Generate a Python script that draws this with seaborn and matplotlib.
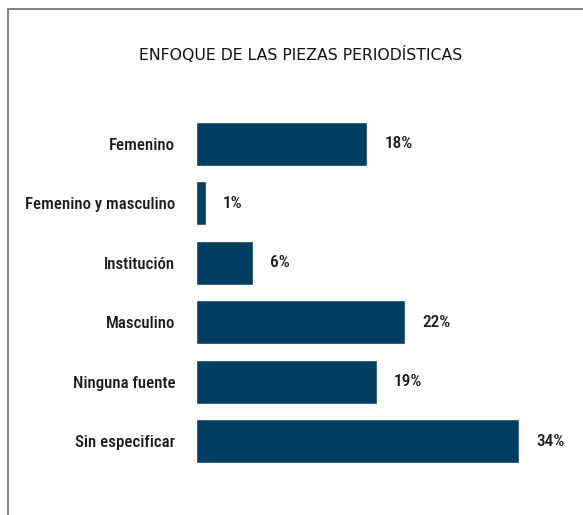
import matplotlib
matplotlib.use("Agg")
import matplotlib.pyplot as plt
import seaborn as sns
import pandas as pd
from matplotlib.patches import Rectangle

# datos del gráfico
categorias = ["Femenino", "Femenino y masculino", "Institución",
              "Masculino", "Ninguna fuente", "Sin especificar"]
porcentajes = [18, 1, 6, 22, 19, 34]
titulo = "ENFOQUE DE LAS PIEZAS PERIODÍSTICAS"

df = pd.DataFrame({"categoria": categorias, "porcentaje": porcentajes})

sns.set_style("white")
plt.rcParams["font.family"] = ["Roboto Condensed", "Liberation Sans", "DejaVu Sans"]

color_barra = "#023E62"

fig = plt.figure(figsize=(5.83, 5.15), dpi=100)
ax = fig.add_axes([196 / 583, 0.0858, 380 / 583, 0.6932])

sns.barplot(data=df, x="porcentaje", y="categoria", orient="h",
            color=color_barra, saturation=1, width=0.74, ax=ax)

ax.set_xlim(0, 40)
ax.set_ylim(5.5, -0.5)
ax.set_xlabel("")
ax.set_ylabel("")
ax.set_xticks([])
sns.despine(ax=ax, left=True, bottom=True)
ax.tick_params(axis="y", length=0, pad=15, labelsize=12.2)
for lbl in ax.get_yticklabels():
    lbl.set_fontweight("medium")
    lbl.set_color("#1a1a1a")

# etiquetas de valor
for i, v in enumerate(porcentajes):
    ax.annotate(f"{v}%", xy=(v, i), xytext=(12.5, 0), textcoords="offset points",
                va="center", ha="left", fontsize=12.5, fontweight="medium",
                color="#1a1a1a")

# título
fig.text(0.515, 1 - 55 / 515, titulo, ha="center", va="center",
         fontsize=11.3, family=["DejaVu Sans"], color="#111111")

# marco
fig.patches.append(Rectangle((7.5 / 583, -0.1), 1.2, 1.1 - 8.5 / 515,
                             transform=fig.transFigure, fill=False,
                             edgecolor="#808080", linewidth=1.4))

fig.savefig("out.png", dpi=100)
